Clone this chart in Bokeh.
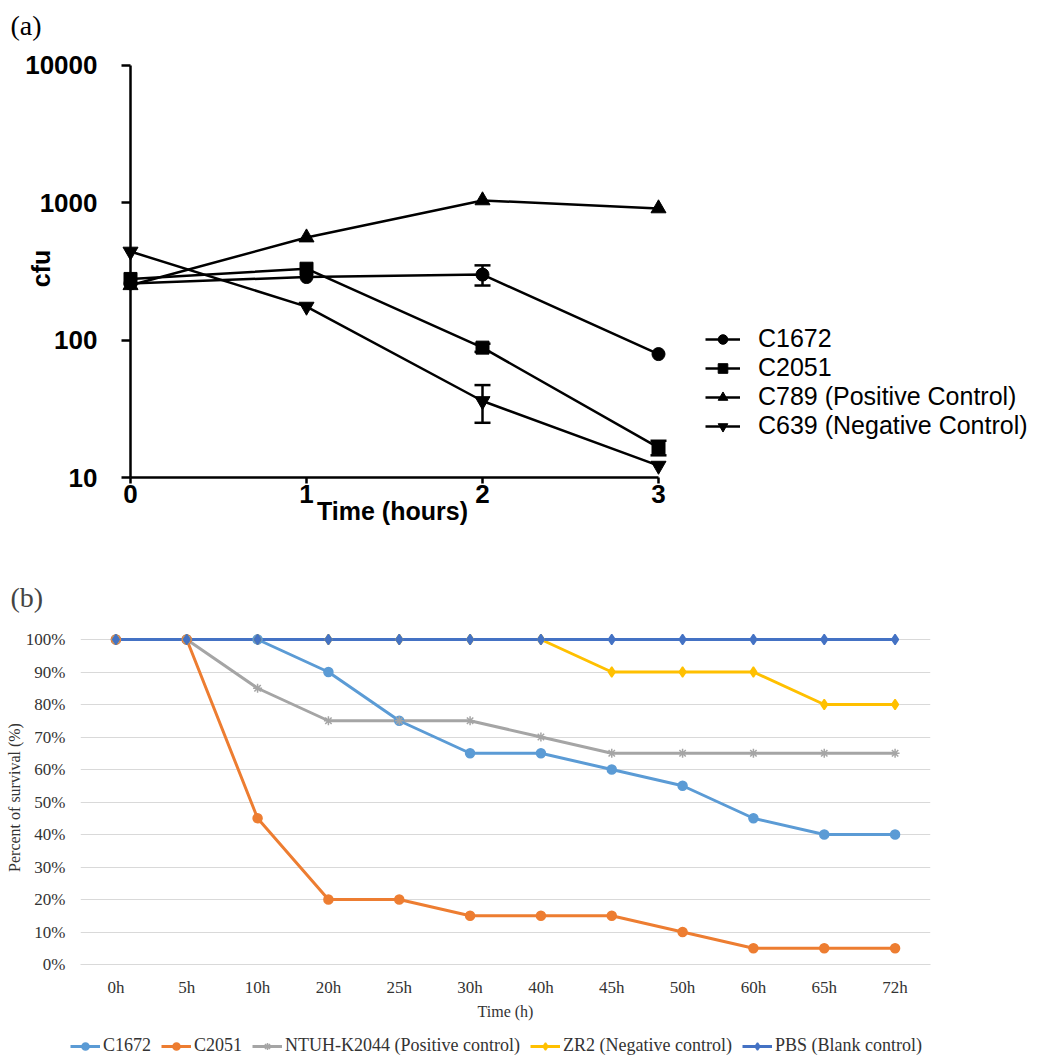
from bokeh.plotting import figure
from bokeh.models import (Range1d, FactorRange, FixedTicker, PrintfTickFormatter,
                          Legend, LegendItem, Whisker, ColumnDataSource, TeeHead, Label)
from bokeh.embed import file_html
from bokeh.resources import INLINE
import math

# ---------------- data: panel (a) ----------------
hours = [0, 1, 2, 3]
c1672 = [258, 287, 299, 79]
c2051 = [278, 330, 88, 16.5]
c789 = [250, 556, 1035, 905]
c639 = [440, 175, 36, 12.2]
c1672_err = [0, 0, 50, 0]
c2051_err = [0, 0, 6, 2]
c789_err = [0, 0, 0, 0]
c639_err = [0, 0, 11, 0]
names_a = ["C1672", "C2051", "C789 (Positive Control)", "C639 (Negative Control)"]
yticks_a = [10, 100, 1000, 10000]
xticks_a = [0, 1, 2, 3]

# ---------------- data: panel (b) ----------------
times_b = ["0h", "5h", "10h", "20h", "25h", "30h", "40h", "45h", "50h", "60h", "65h", "72h"]
b_c1672 = [100, 100, 100, 90, 75, 65, 65, 60, 55, 45, 40, 40]
b_c2051 = [100, 100, 45, 20, 20, 15, 15, 15, 10, 5, 5, 5]
b_ntuh = [100, 100, 85, 75, 75, 75, 70, 65, 65, 65, 65, 65]
b_zr2 = [100, 100, 100, 100, 100, 100, 100, 90, 90, 90, 80, 80]
b_pbs = [100, 100, 100, 100, 100, 100, 100, 100, 100, 100, 100, 100]
names_b = ["C1672", "C2051", "NTUH-K2044 (Positive control)",
           "ZR2 (Negative control)", "PBS (Blank control)"]
yticks_b = [0, 10, 20, 30, 40, 50, 60, 70, 80, 90, 100]

# ================= panel (a) =================
# The frame covers the whole canvas; axes are pinned at x=0 and y=10.
W1, H1 = 1035, 560
X0_PX, PX_PER_X = 130, 176          # screen position of x=0, pixels per hour
Y10_PX, PX_PER_DEC = 477, 137.5     # screen position of y=10, pixels per decade
x_lo = -X0_PX / PX_PER_X
x_hi = (W1 - X0_PX) / PX_PER_X
y_lo = 10 * 10 ** (-(H1 - Y10_PX) / PX_PER_DEC)
y_hi = 10 * 10 ** (Y10_PX / PX_PER_DEC)


def sx(px):
    return (px - X0_PX) / PX_PER_X


def sy(py):
    return 10 * 10 ** ((Y10_PX - py) / PX_PER_DEC)


p1 = figure(width=W1, height=H1, x_range=Range1d(x_lo, x_hi), y_range=Range1d(y_lo, y_hi),
            y_axis_type="log", output_backend="svg", toolbar_location=None,
            min_border_left=0, min_border_right=0, min_border_top=0, min_border_bottom=0)
p1.outline_line_color = None
p1.grid.visible = False
p1.background_fill_color = "white"
p1.border_fill_color = "white"

ya = p1.yaxis[0]
ya.fixed_location = 0
ya.bounds = (10, 10000)
ya.ticker = FixedTicker(ticks=yticks_a, minor_ticks=[])
ya.formatter = PrintfTickFormatter(format="%d")
xa = p1.xaxis[0]
xa.fixed_location = 10
xa.ticker = FixedTicker(ticks=xticks_a, minor_ticks=[])
xa.bounds = (0, 3)
for ax in (ya, xa):
    ax.axis_line_width = 2.5
    ax.axis_line_color = "black"
    ax.major_tick_line_width = 2.5
    ax.major_tick_line_color = "black"
    ax.major_tick_in = 0
    ax.minor_tick_line_color = None
    ax.major_label_text_font = "Liberation Sans"
    ax.major_label_text_font_style = "bold"
    ax.major_label_text_font_size = "26px"
    ax.major_label_text_color = "black"
ya.major_tick_out = 9
ya.major_label_standoff = 24
xa.major_tick_out = 6
xa.major_label_standoff = 1

p1.add_layout(Label(x=sx(10), y=sy(25), text="(a)", text_font="Liberation Serif",
                    text_font_size="28px", text_align="left", text_baseline="middle",
                    text_color="black"))
p1.add_layout(Label(x=sx(40), y=sy(268), text="cfu", text_font="Liberation Sans",
                    text_font_style="bold", text_font_size="25px", angle=math.pi / 2,
                    text_align="center", text_baseline="middle", text_color="black"))
p1.add_layout(Label(x=sx(392), y=sy(510), text="Time (hours)", text_font="Liberation Sans",
                    text_font_style="bold", text_font_size="25px",
                    text_align="center", text_baseline="middle", text_color="black"))

series_a = [c1672, c2051, c789, c639]
errs_a = [c1672_err, c2051_err, c789_err, c639_err]
markers_a = ["circle", "square", "triangle", "inverted_triangle"]
sizes_a = [13, 13, 15, 15]
items_a = []
for name, vals, errs, mk, sz in zip(names_a, series_a, errs_a, markers_a, sizes_a):
    ln = p1.line(hours, vals, line_color="black", line_width=2.5)
    sc = p1.scatter(hours, vals, marker=mk, size=sz, fill_color="black", line_color="black",
                    level="overlay")
    xs = [h for h, e in zip(hours, errs) if e > 0]
    if xs:
        up = [v + e for v, e in zip(vals, errs) if e > 0]
        lo = [v - e for v, e in zip(vals, errs) if e > 0]
        src = ColumnDataSource(dict(x=xs, upper=up, lower=lo))
        w = Whisker(source=src, base="x", upper="upper", lower="lower", dimension="height",
                    line_width=2.5, line_color="black",
                    upper_head=TeeHead(size=16, line_width=2.5, line_color="black"),
                    lower_head=TeeHead(size=16, line_width=2.5, line_color="black"))
        p1.add_layout(w)
    items_a.append(LegendItem(label=name, renderers=[ln, sc]))

leg_a = Legend(items=items_a, location=(705, 120), orientation="vertical")
leg_a.label_text_font = "Liberation Sans"
leg_a.label_text_font_size = "25px"
leg_a.label_text_color = "black"
leg_a.glyph_width = 35
leg_a.glyph_height = 24
leg_a.label_height = 24
leg_a.label_standoff = 18
leg_a.spacing = -2
leg_a.padding = 0
leg_a.margin = 0
leg_a.border_line_color = None
leg_a.background_fill_alpha = 0
p1.add_layout(leg_a)

# ================= panel (b) =================
p2 = figure(width=1035, height=465, x_range=FactorRange(*times_b), y_range=Range1d(0, 104),
            output_backend="svg", toolbar_location=None,
            min_border_left=80, min_border_right=105, min_border_top=66, min_border_bottom=61,
            title="(b)")
p2.outline_line_color = None
p2.xgrid.visible = False
p2.ygrid.grid_line_color = "#D9D9D9"
p2.ygrid.grid_line_width = 1
p2.background_fill_color = "white"
p2.border_fill_color = "white"
p2.title.text_font = "Liberation Serif"
p2.title.text_font_size = "28px"
p2.title.text_font_style = "normal"
p2.title.align = "left"
p2.title.offset = -70
p2.title.standoff = 27

yb = p2.yaxis[0]
yb.ticker = FixedTicker(ticks=yticks_b, minor_ticks=[])
yb.formatter = PrintfTickFormatter(format="%d%%")
yb.axis_line_color = None
yb.major_tick_line_color = None
yb.minor_tick_line_color = None
yb.major_label_standoff = 9
yb.axis_label = "Percent of survival  (%)"
yb.axis_label_standoff = 0
xb = p2.xaxis[0]
xb.axis_line_color = "#D9D9D9"
xb.major_tick_line_color = None
xb.minor_tick_line_color = None
xb.major_label_standoff = 7
xb.axis_label = "Time (h)"
xb.axis_label_standoff = 3
for ax in (yb, xb):
    ax.major_label_text_font = "Liberation Serif"
    ax.major_label_text_font_size = "17px"
    ax.major_label_text_color = "#333333"
    ax.axis_label_text_font = "Liberation Serif"
    ax.axis_label_text_font_style = "normal"
    ax.axis_label_text_font_size = "16px"
    ax.axis_label_text_color = "#333333"

series_b = [b_c1672, b_c2051, b_ntuh, b_zr2, b_pbs]
colors_b = ["#5B9BD5", "#ED7D31", "#A5A5A5", "#FFC000", "#4472C4"]
markers_b = ["circle", "circle", "asterisk", "diamond", "diamond"]
msizes_b = [9, 9, 9, 10, 10]
lwidths_b = [3, 3, 3, 3, 3]
for vals, col, mk, ms, lw in zip(series_b, colors_b, markers_b, msizes_b, lwidths_b):
    p2.line(times_b, vals, line_color=col, line_width=lw)
    p2.scatter(times_b, vals, marker=mk, size=ms, fill_color=col, line_color=col,
               line_width=1.5, level="overlay")

# ---- legend strip for panel (b): its own small figure (legend drawn inside a frame) ----
# same series are drawn there, but the y range keeps them out of view
p3 = figure(width=1035, height=31, x_range=FactorRange(*times_b), y_range=Range1d(-300, -200),
            output_backend="svg", toolbar_location=None,
            min_border_left=0, min_border_right=0, min_border_top=0, min_border_bottom=0)
p3.outline_line_color = None
p3.grid.visible = False
p3.axis.visible = False
p3.background_fill_color = "white"
p3.border_fill_color = "white"
items_b = []
for name, vals, col, mk, ms, lw in zip(names_b, series_b, colors_b, markers_b, msizes_b, lwidths_b):
    ln = p3.line(times_b, vals, line_color=col, line_width=lw)
    sc = p3.scatter(times_b, vals, marker=mk, size=ms - 2, fill_color=col, line_color=col,
                    line_width=1.5)
    items_b.append(LegendItem(label=name, renderers=[ln, sc]))

leg_b = Legend(items=items_b, orientation="horizontal", location=(70, 0))
leg_b.label_text_font = "Liberation Serif"
leg_b.label_text_font_size = "18px"
leg_b.label_text_color = "#333333"
leg_b.glyph_width = 30
leg_b.glyph_height = 18
leg_b.label_height = 18
leg_b.label_standoff = 3
leg_b.spacing = 10
leg_b.padding = 0
leg_b.margin = 0
leg_b.border_line_color = None
leg_b.background_fill_alpha = 0
p3.add_layout(leg_b)

open("out.html", "w").write(file_html([p1, p2, p3], INLINE))
